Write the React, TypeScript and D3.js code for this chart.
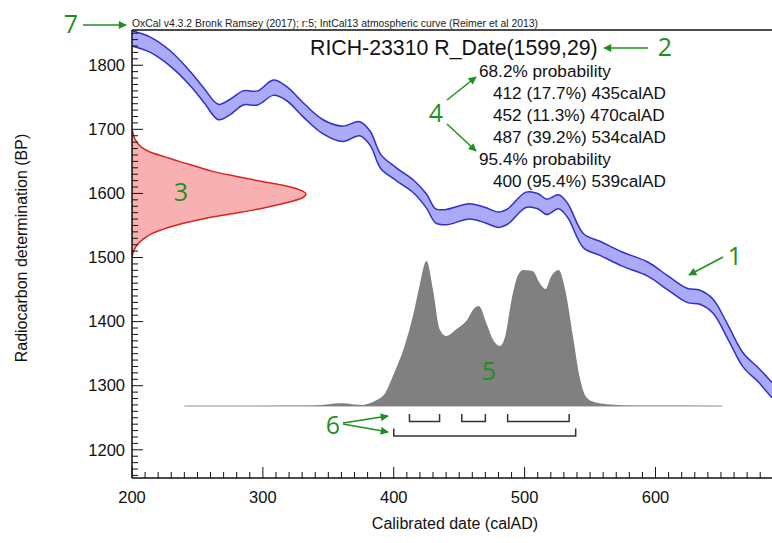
import React from "react";
import * as d3 from "d3";

// IntCal13 curve (calAD, BP, 1 sigma)
const calCurveAD = [200, 214, 229, 245, 255, 266, 275, 285, 296, 308, 318, 331, 346, 361, 374, 382, 390, 402, 415, 425, 432, 440, 458, 470, 480, 487, 501, 510, 517, 526, 533, 545, 558, 574, 594, 609, 624, 634, 644, 655, 667, 679, 689];
const calCurveBP = [1842, 1832, 1811, 1778, 1753, 1727, 1735, 1749, 1749, 1765, 1756, 1730, 1704, 1693, 1701, 1686, 1650, 1630, 1611, 1588, 1565, 1563, 1572, 1566, 1559, 1564, 1590, 1588, 1579, 1587, 1573, 1526, 1514, 1498, 1482, 1461, 1441, 1438, 1424, 1385, 1340, 1316, 1293];
const calCurveErr = [12, 12, 12, 11, 11, 12, 12, 11, 11, 12, 11, 11, 11, 12, 11, 11, 11, 10, 10, 11, 11, 12, 12, 12, 12, 12, 12, 12, 12, 11, 11, 11, 11, 11, 11, 11, 11, 11, 11, 11, 11, 11, 12];

// calibrated probability (relative to max)
const probAD = [240, 330, 345, 355, 362, 370, 376, 382, 387, 393, 400, 408, 415, 420, 425, 430, 435, 440, 448, 456, 461, 465, 471, 476, 481, 485, 490, 495, 499, 506, 512, 516, 520, 526, 531, 537, 542, 547, 553, 566, 580, 600, 651];
const probValues = [0, 0.002, 0.007, 0.017, 0.019, 0.01, 0.007, 0.021, 0.041, 0.083, 0.221, 0.407, 0.634, 0.841, 1, 0.8, 0.531, 0.483, 0.531, 0.593, 0.669, 0.69, 0.566, 0.455, 0.414, 0.476, 0.731, 0.903, 0.938, 0.931, 0.841, 0.807, 0.89, 0.938, 0.8, 0.476, 0.2, 0.062, 0.028, 0.01, 0.003, 0.001, 0];

// radiocarbon date distribution R_Date(1599,29)
const rDateBP = [1700, 1690, 1683, 1673, 1665, 1657, 1650, 1642, 1634, 1626, 1619, 1613, 1606, 1599, 1592, 1585, 1577, 1569, 1561, 1553, 1546, 1538, 1530, 1520, 1512, 1500];
const rDateDensity = [0, 0.01, 0.02, 0.05, 0.1, 0.19, 0.27, 0.37, 0.47, 0.61, 0.74, 0.86, 0.96, 1, 0.97, 0.88, 0.75, 0.59, 0.42, 0.29, 0.2, 0.12, 0.07, 0.03, 0.012, 0];

const range68 = [[412, 435], [452, 470], [487, 534]];
const range95 = [[400, 539]];

const xTickLabels = [200, 300, 400, 500, 600];
const yTickLabels = [1200, 1300, 1400, 1500, 1600, 1700, 1800];

const headerText = "OxCal v4.3.2 Bronk Ramsey (2017); r:5; IntCal13 atmospheric curve (Reimer et al 2013)";
const titleText = "RICH-23310 R_Date(1599,29)";
const resultLines = [
  { text: "68.2% probability", indent: false },
  { text: "412 (17.7%) 435calAD", indent: true },
  { text: "452 (11.3%) 470calAD", indent: true },
  { text: "487 (39.2%) 534calAD", indent: true },
  { text: "95.4% probability", indent: false },
  { text: "400 (95.4%) 539calAD", indent: true },
];

const green = "#1f8f1f";
const font = "'Liberation Sans', Arial, sans-serif";

export default function App() {
  const x = d3.scaleLinear().domain([200, 689]).range([132, 772]);
  const y = d3.scaleLinear().domain([1156, 1855]).range([478, 30]);
  const probY = d3.scaleLinear().domain([0, 1]).range([406, 261]);
  const rDateX = d3.scaleLinear().domain([0, 1]).range([132, 306]);

  const curvePts = calCurveAD.map((ad, i) => ({ ad, bp: calCurveBP[i], err: calCurveErr[i] }));
  const band = d3.area<any>()
    .x(d => x(d.ad))
    .y0(d => y(d.bp - d.err))
    .y1(d => y(d.bp + d.err))
    .curve(d3.curveCatmullRom);
  const upper = d3.line<any>().x(d => x(d.ad)).y(d => y(d.bp + d.err)).curve(d3.curveCatmullRom);
  const lower = d3.line<any>().x(d => x(d.ad)).y(d => y(d.bp - d.err)).curve(d3.curveCatmullRom);

  const probPts = probAD.map((ad, i) => ({ ad, p: probValues[i] }));
  const probArea = d3.area<any>()
    .x(d => x(d.ad))
    .y0(probY(0))
    .y1(d => probY(d.p))
    .curve(d3.curveMonotoneX);

  const rPts = rDateBP.map((bp, i) => ({ bp, d: rDateDensity[i] }));
  const rArea = d3.area<any>()
    .y(d => y(d.bp))
    .x0(rDateX(0))
    .x1(d => rDateX(d.d))
    .curve(d3.curveMonotoneY);
  const rLine = d3.line<any>().y(d => y(d.bp)).x(d => rDateX(d.d)).curve(d3.curveMonotoneY);

  const yTicks = d3.range(1160, 1851, 10);
  const xTicks = d3.range(200, 690, 10);

  const bracket = (r: number[], base: number, key: string) => (
    <path
      key={key}
      d={`M${x(r[0])},${base - 7.5}V${base}H${x(r[1])}V${base - 7.5}`}
      fill="none"
      stroke="#333"
      strokeWidth={1.5}
    />
  );

  const arrows = [
    [83, 25, 126, 25],
    [648, 48, 604, 48],
    [723, 257, 689, 275],
    [447, 100, 476, 77],
    [447, 124, 476, 151],
    [343, 423, 388, 416],
    [343, 424, 388, 432],
  ];
  const numbers = [
    ["7", 71, 24],
    ["2", 665, 47],
    ["1", 735, 256],
    ["3", 181, 192],
    ["4", 436, 113],
    ["5", 489, 371],
    ["6", 333, 425],
  ];

  return (
    <svg width={772} height={543} style={{ position: "absolute", left: 0, top: 0, background: "#fff" }} fontFamily={font}>
      <defs>
        <clipPath id="plot">
          <rect x={132} y={30} width={640} height={448} />
        </clipPath>
        <marker id="arr" viewBox="0 0 10 10" refX={9} refY={5} markerWidth={9} markerHeight={8} markerUnits="userSpaceOnUse" orient="auto">
          <path d="M0,0L10,5L0,10z" fill={green} />
        </marker>
      </defs>

      <text x={132} y={27} fontSize={10.4} fill="#222">{headerText}</text>

      <g clipPath="url(#plot)">
        <path d={band(curvePts) || ""} fill="#aaaaf6" />
        <path d={upper(curvePts) || ""} fill="none" stroke="#3030c8" strokeWidth={1.5} />
        <path d={lower(curvePts) || ""} fill="none" stroke="#3030c8" strokeWidth={1.5} />

        <path d={rArea(rPts) || ""} fill="#f8b0b0" />
        <path d={rLine(rPts) || ""} fill="none" stroke="#dd2222" strokeWidth={1.5} />

        <line x1={x(240)} x2={x(651)} y1={probY(0)} y2={probY(0)} stroke="#c8c8c8" strokeWidth={2} />
        <path d={probArea(probPts) || ""} fill="#808080" />
      </g>

      {range68.map((r, i) => bracket(r, 421.5, "a" + i))}
      {range95.map((r, i) => bracket(r, 436, "b" + i))}

      {/* frame and ticks */}
      <line x1={132} x2={772} y1={30} y2={30} stroke="#111" strokeWidth={1.5} />
      <line x1={132} x2={132} y1={30} y2={478} stroke="#111" strokeWidth={1.5} />
      <line x1={132} x2={772} y1={478} y2={478} stroke="#111" strokeWidth={1.5} />
      {yTicks.map(v => (
        <line key={"yt" + v} x1={132} x2={132 + (v % 100 === 0 ? 11 : 6)} y1={y(v)} y2={y(v)} stroke="#111" strokeWidth={1} />
      ))}
      {xTicks.map(v => (
        <line key={"xt" + v} x1={x(v)} x2={x(v)} y1={478} y2={478 - (v % 100 === 0 ? 11 : 6)} stroke="#111" strokeWidth={1} />
      ))}
      {yTickLabels.map(v => (
        <text key={"yl" + v} x={125} y={y(v)} dy="0.35em" textAnchor="end" fontSize={16.5} fill="#111">{v}</text>
      ))}
      {xTickLabels.map(v => (
        <text key={"xl" + v} x={x(v)} y={503} textAnchor="middle" fontSize={16.5} fill="#111">{v}</text>
      ))}

      <text x={455} y={529} textAnchor="middle" fontSize={16} fill="#111">Calibrated date (calAD)</text>
      <text transform="translate(27,248) rotate(-90)" textAnchor="middle" fontSize={16} fill="#111">Radiocarbon determination (BP)</text>

      <text x={310} y={55} fontSize={21.3} fill="#111">{titleText}</text>
      {resultLines.map((l, i) => (
        <text key={"r" + i} x={l.indent ? 493 : 479} y={77 + i * 22} fontSize={17.2} fill="#111">{l.text}</text>
      ))}

      {arrows.map((a, i) => (
        <line key={"ar" + i} x1={a[0]} y1={a[1]} x2={a[2]} y2={a[3]} stroke={green} strokeWidth={1.5} markerEnd="url(#arr)" />
      ))}
      {numbers.map(n => (
        <text key={"n" + n[0]} x={n[1] as number} y={n[2] as number} dy="0.36em" textAnchor="middle" fontSize={25} fill={green} fontFamily="'Open Sans', 'Noto Sans', sans-serif">{n[0]}</text>
      ))}
    </svg>
  );
}
